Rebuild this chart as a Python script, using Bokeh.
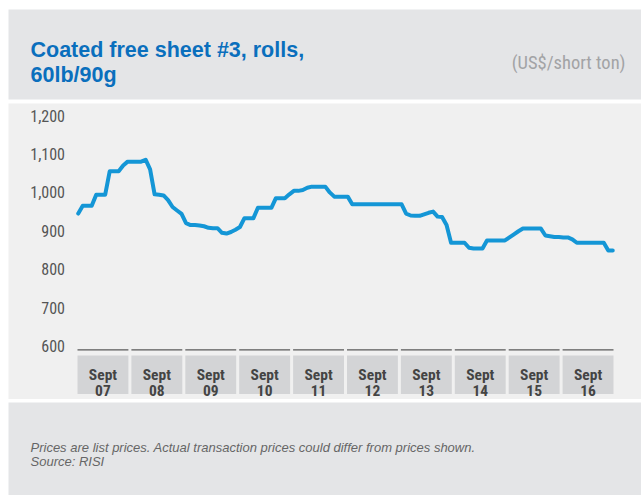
import numpy as np
from bokeh.plotting import figure
from bokeh.models import Range1d, ColumnDataSource, Label
from bokeh.core.properties import value
from bokeh.embed import file_html
from bokeh.resources import INLINE

# ---------------- data ----------------
title_lines = ["Coated free sheet #3, rolls,", "60lb/90g"]
unit_label = "(US$/short ton)"
footer_lines = ["Prices are list prices. Actual transaction prices could differ from prices shown.",
                "Source: RISI"]
band_top = ["Sept"] * 10
band_years = ["07", "08", "09", "10", "11", "12", "13", "14", "15", "16"]
y_ticks = [600, 700, 800, 900, 1000, 1100, 1200]
y_tick_labels = ["600", "700", "800", "900", "1,000", "1,100", "1,200"]

# monthly list price, Jan 2007 - Dec 2016 (US$/short ton)
prices = [
    945, 965, 965, 965, 994, 994, 994, 1055, 1055, 1055, 1070, 1080,    # 2007
    1080, 1080, 1080, 1085, 1060, 995, 994, 992, 980, 962, 953, 944,    # 2008
    920, 915, 915, 914, 912, 908, 907, 907, 895, 893, 897, 903,         # 2009
    910, 933, 933, 933, 960, 960, 960, 960, 985, 985, 985, 995,         # 2010
    1004, 1004, 1006, 1012, 1015, 1015, 1015, 1015, 1000, 989, 989, 989,  # 2011
    989, 969, 969, 969, 969, 969, 969, 969, 969, 969, 969, 969,         # 2012
    969, 945, 940, 939, 939, 943, 947, 950, 937, 936, 915, 869,         # 2013
    869, 869, 869, 856, 854, 854, 854, 875, 875, 875, 875, 875,         # 2014
    883, 891, 899, 906, 906, 906, 906, 906, 888, 886, 884, 884,         # 2015
    883, 883, 878, 869, 869, 869, 869, 869, 869, 869, 849, 849,         # 2016
]

# ---------------- layout (pixels) ----------------
W, H = 641, 495
BAND_L_PX, BAND_R_PX = 75.5, 614.5      # x = 0 .. 10 (years)
Y_TOP_PX, Y_BOT_PX = 115.0, 345.7       # y = 1200 .. 600
n_bands = len(band_years)

sx = n_bands / (BAND_R_PX - BAND_L_PX)
sy = (y_ticks[-1] - y_ticks[0]) / (Y_BOT_PX - Y_TOP_PX)
x_start = -BAND_L_PX * sx
x_end = n_bands + (W - BAND_R_PX) * sx
y_end = y_ticks[-1] + Y_TOP_PX * sy
y_start = y_ticks[0] - (H - Y_BOT_PX) * sy


def px_x(px):
    return x_start + px * sx


def px_y(py):
    return y_end - py * sy


p = figure(width=W, height=H, output_backend="svg", toolbar_location=None,
           x_range=Range1d(x_start, x_end), y_range=Range1d(y_start, y_end),
           x_axis_type=None, y_axis_type=None, min_border=0)
p.grid.visible = False
p.outline_line_color = None
p.background_fill_color = "white"
p.border_fill_color = "white"

COND = "Roboto Condensed"
SANS = "Liberation Sans"

# header / chart / footer panels
p.quad(left=[px_x(8)], right=[px_x(641)], top=[px_y(9)], bottom=[px_y(99)],
       fill_color="#e4e5e7", line_color=None)
p.quad(left=[px_x(8)], right=[px_x(641)], top=[px_y(103)], bottom=[px_y(398.5)],
       fill_color="#f0f0f0", line_color=None)
p.quad(left=[px_x(8)], right=[px_x(641)], top=[px_y(402)], bottom=[px_y(495)],
       fill_color="#e4e5e7", line_color=None)

# title
for i, t in enumerate(title_lines):
    p.add_layout(Label(x=px_x(30), y=px_y(49 + 25 * i), text=t, text_font=SANS,
                       text_font_style="bold", text_font_size="21.5px",
                       text_color="#0a6fbd", text_baseline="alphabetic"))
p.add_layout(Label(x=px_x(625), y=px_y(62), text=unit_label, text_font=COND,
                   text_font_size="18.5px", text_color="#a2a3a5",
                   text_align="right", text_baseline="alphabetic"))

# y tick labels
ysrc = ColumnDataSource(dict(x=[px_x(64.5)] * len(y_ticks), y=y_ticks, t=y_tick_labels))
p.text(x="x", y="y", text="t", source=ysrc, text_align="right", text_baseline="middle",
       text_font=value(COND), text_font_size="16px", text_color="#555555")

# category bands
gap = 3 * sx
k = np.arange(n_bands)
p.quad(left=k + gap / 2, right=k + 1 - gap / 2, top=px_y(355), bottom=px_y(393.5),
       fill_color="#d3d4d6", line_color=None)
base_y = px_y(349.3)
p.segment(x0=k + gap / 2, x1=k + 1 - gap / 2, y0=[base_y] * n_bands,
          y1=[base_y] * n_bands, line_color="#5a5a5a", line_width=1.3)
bsrc = ColumnDataSource(dict(x=k + 0.5, y1=[px_y(374)] * n_bands, y2=[px_y(390)] * n_bands,
                             t1=band_top, t2=band_years))
p.text(x="x", y="y1", text="t1", source=bsrc, text_align="center", text_baseline="alphabetic",
       text_font=value(COND), text_font_style="bold", text_font_size="15.5px",
       text_color="#444444")
p.text(x="x", y="y2", text="t2", source=bsrc, text_align="center", text_baseline="alphabetic",
       text_font=value(COND), text_font_style="bold", text_font_size="15.5px",
       text_color="#444444")

# price line
xs = (np.arange(len(prices)) + 0.5) / 12.0
p.line(xs, prices, line_color="#1496d6", line_width=4, line_join="round", line_cap="round")

# footer
for i, t in enumerate(footer_lines):
    p.add_layout(Label(x=px_x(30), y=px_y(447 + 13.5 * i), text=t, text_font=SANS,
                       text_font_style="italic", text_font_size="13px",
                       text_color="#666666", text_baseline="alphabetic"))

open("out.html", "w").write(file_html(p, INLINE))
